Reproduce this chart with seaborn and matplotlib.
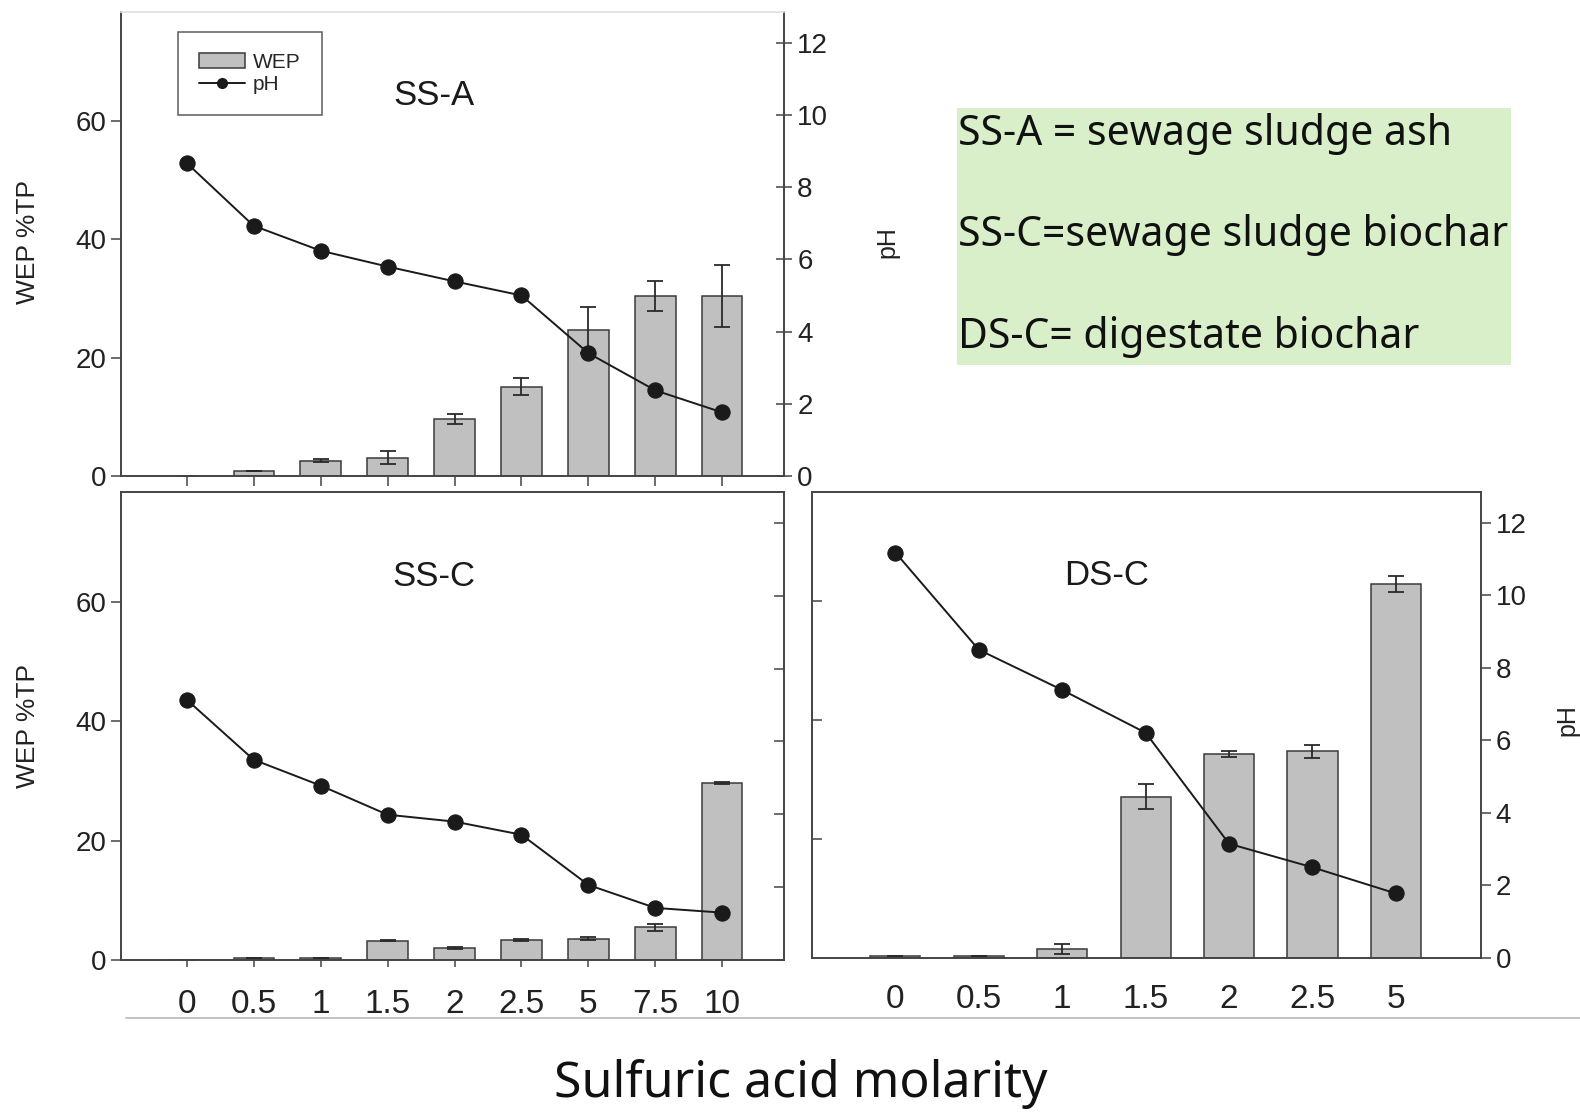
import numpy as np
import matplotlib
matplotlib.use("Agg")
import matplotlib.pyplot as plt
from matplotlib.patches import Patch, Rectangle
from matplotlib.lines import Line2D
import seaborn as sns

# data (WEP = % of TP, pH of the extract)
molarity_ss = ["0", "0.5", "1", "1.5", "2", "2.5", "5", "7.5", "10"]
molarity_ds = ["0", "0.5", "1", "1.5", "2", "2.5", "5"]

ssa_wep = [0.0, 0.9, 2.6, 3.1, 9.6, 15.1, 24.7, 30.4, 30.4]
ssa_err = [0.0, 0.0, 0.2, 1.1, 0.8, 1.4, 3.9, 2.6, 5.2]
ssa_ph = [8.67, 6.93, 6.24, 5.80, 5.39, 5.00, 3.40, 2.37, 1.76]

ssc_wep = [0.05, 0.4, 0.4, 3.2, 2.0, 3.35, 3.6, 5.5, 29.7]
ssc_err = [0.0, 0.0, 0.0, 0.1, 0.15, 0.1, 0.3, 0.6, 0.15]
ssc_ph = [7.15, 5.50, 4.79, 3.99, 3.80, 3.44, 2.06, 1.43, 1.30]

dsc_wep = [0.4, 0.3, 1.5, 27.1, 34.3, 34.8, 62.9]
dsc_err = [0.0, 0.0, 0.9, 2.1, 0.5, 1.1, 1.3]
dsc_ph = [11.18, 8.50, 7.39, 6.21, 3.15, 2.50, 1.78]

BAR = "#c0c0c0"
EDGE = "#3a3a3a"
LINE = "#1a1a1a"
WEP_MAX = 78.4
PH_MAX = 12.85

sns.set_style("ticks")
plt.rcParams["font.family"] = ["Liberation Sans", "DejaVu Sans"]
plt.rcParams["axes.edgecolor"] = "#444444"
plt.rcParams["xtick.color"] = "#444444"
plt.rcParams["ytick.color"] = "#444444"
plt.rcParams["xtick.labelcolor"] = "#222222"
plt.rcParams["ytick.labelcolor"] = "#222222"

W, H = 1580, 1120
fig = plt.figure(figsize=(15.8, 11.2), dpi=100)


def box(l, t, r, b):
    return [l / W, 1 - b / H, (r - l) / W, (b - t) / H]


def panel(rect, cats, wep, err, ph, name, name_x):
    ax = fig.add_axes(rect)
    x = np.arange(len(cats))
    sns.barplot(x=cats, y=wep, ax=ax, color=BAR, saturation=1, width=0.6,
                edgecolor=EDGE, linewidth=1.1, errorbar=None)
    ax.errorbar(x, wep, yerr=err, fmt="none", ecolor="#2a2a2a",
                elinewidth=1.3, capsize=6, capthick=1.3)
    ax2 = ax.twinx()
    sns.lineplot(x=x, y=ph, ax=ax2, color=LINE, linewidth=1.4, marker="o",
                 markersize=11, markeredgecolor=LINE)
    ax.set_xlim(-0.98, len(cats) - 0.08)
    ax.set_ylim(0, WEP_MAX)
    ax2.set_ylim(0, PH_MAX)
    ax.set_yticks([0, 20, 40, 60])
    ax2.set_yticks([0, 2, 4, 6, 8, 10, 12])
    ax.set_xlabel("")
    ax.set_ylabel("")
    ax2.set_ylabel("")
    ax.tick_params(axis="y", labelsize=20, length=7, width=1.1)
    ax2.tick_params(axis="y", labelsize=20, length=7, width=1.1)
    ax.tick_params(axis="x", labelsize=24, length=7, width=1.1, pad=16)
    for a in (ax, ax2):
        for s in a.spines.values():
            s.set_linewidth(1.2)
    ax.text(name_x, 0.82, name, transform=ax.transAxes, fontsize=25,
            ha="center", va="center", color="#1a1a1a")
    return ax, ax2


# SS-A (top left)
ax_a, ax_a2 = panel(box(121, 12, 784, 476), molarity_ss, ssa_wep, ssa_err,
                    ssa_ph, "SS-A", 0.472)
ax_a.tick_params(axis="x", labelbottom=False)
ax_a2.tick_params(axis="y", direction="inout", length=12)
for a in (ax_a, ax_a2):
    a.spines["top"].set_color("#e4e4e4")
handles = [Patch(facecolor=BAR, edgecolor=EDGE, linewidth=1.1),
           Line2D([], [], color=LINE, lw=1.4, marker="o", markersize=7)]
leg = ax_a.legend(handles, ["WEP", "pH"], loc="upper left",
                  bbox_to_anchor=(0.086, 0.957), borderaxespad=0,
                  fontsize=15, frameon=True, fancybox=False,
                  handlelength=2.2, handletextpad=0.4, labelspacing=0.15,
                  borderpad=1.0)
leg.get_frame().set_edgecolor("#333333")
leg.get_frame().set_linewidth(1.1)

# SS-C (bottom left)
ax_c, ax_c2 = panel(box(121, 492, 784, 960), molarity_ss, ssc_wep, ssc_err,
                    ssc_ph, "SS-C", 0.472)
ax_c2.tick_params(axis="y", labelright=False, direction="in")
ax_c.tick_params(axis="x", length=5)

# DS-C (bottom right)
ax_d, ax_d2 = panel(box(812, 492, 1481, 958), molarity_ds, dsc_wep, dsc_err,
                    dsc_ph, "DS-C", 0.44)
ax_d.set_xlim(-1.0, 7.02)
ax_d.tick_params(axis="y", labelleft=False, direction="in")
ax_d.set_yticks([20, 40, 60])
ax_d.tick_params(axis="x", length=0, pad=19)

# axis titles
for yc in (242, 726):
    fig.text(28 / W, 1 - yc / H, "WEP %TP", rotation=90, fontsize=19,
             ha="center", va="center", color="#222222")
fig.text(887 / W, 1 - 242 / H, "pH", rotation=90, fontsize=18,
         ha="center", va="center", color="#222222")
fig.text(1579 / W, 1 - 720 / H, "pH", rotation=90, fontsize=18,
         ha="right", va="center", color="#222222")

# bottom rule and common x label
fig.add_artist(Line2D([126 / W, 1.0], [1 - 1018 / H, 1 - 1018 / H],
                      transform=fig.transFigure, color="#b8b8b8", lw=1.2))
fig.text(801 / W, 1 - 1084 / H, "Sulfuric acid molarity", fontsize=36,
         family=["Noto Sans", "DejaVu Sans"], ha="center", va="center",
         color="#111111")

# key box
fig.add_artist(Rectangle((957 / W, 1 - 365 / H), (1511 - 957) / W,
                         (365 - 108) / H, transform=fig.transFigure,
                         facecolor="#d9efc9", edgecolor="none", zorder=0))
key_lines = ["SS-A = sewage sludge ash", "SS-C=sewage sludge biochar",
             "DS-C= digestate biochar"]
for txt, yc in zip(key_lines, [134, 235, 337]):
    fig.text(958 / W, 1 - yc / H, txt, fontsize=29.5,
             family=["Noto Sans", "DejaVu Sans"], ha="left", va="center",
             color="#111111")

fig.savefig("out.png", dpi=100, facecolor="white")
